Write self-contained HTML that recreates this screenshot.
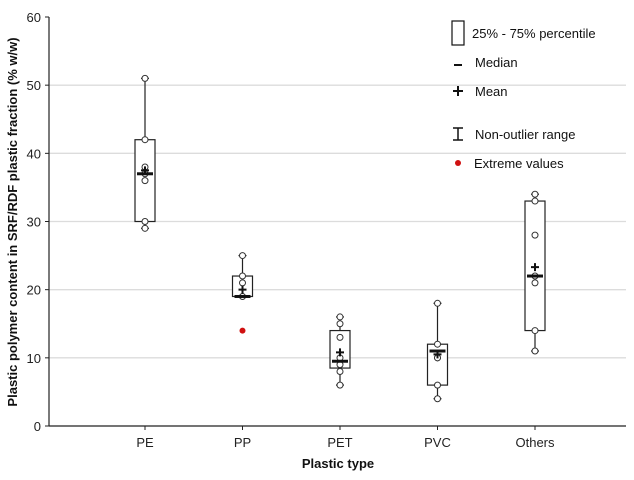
<!DOCTYPE html>
<html><head><meta charset="utf-8"><style>
body{margin:0;background:#fff}
svg text{font-family:"Liberation Sans",Arial,sans-serif}
</style></head><body>
<svg id="chart" width="634" height="475" viewBox="0 0 634 475" xmlns="http://www.w3.org/2000/svg">
<g id="grid"></g>
<g id="axes"></g>
<g id="boxes"></g>
<text transform="translate(17,222) rotate(-90)" text-anchor="middle" font-size="13" font-weight="bold" fill="#111">Plastic polymer content in SRF/RDF plastic fraction (% w/w)</text>
<text x="338" y="468" text-anchor="middle" font-size="13" font-weight="bold" fill="#111">Plastic type</text>
<g font-size="13" fill="#111">
  <rect x="452" y="21" width="12" height="24" fill="#fff" stroke="#111" stroke-width="1.2"/>
  <text x="472" y="38">25% - 75% percentile</text>
  <line x1="454" y1="65" x2="462" y2="65" stroke="#111" stroke-width="2"/>
  <text x="475" y="67">Median</text>
  <path d="M453 91H463M458 86V96" stroke="#111" stroke-width="2"/>
  <text x="475" y="96">Mean</text>
  <path d="M453 128H463M458 128V140M453 140H463" stroke="#111" stroke-width="1.5" fill="none"/>
  <text x="475" y="139">Non-outlier range</text>
  <circle cx="458" cy="163" r="3" fill="#d01010"/>
  <text x="474" y="168">Extreme values</text>
</g>
</svg>
<script>
const categories=["PE","PP","PET","PVC","Others"];
const q1=[30,19,8.5,6,14];
const q3=[42,22,14,12,33];
const medians=[37,19,9.5,11,22];
const means=[37.5,20,10.8,10.5,23.3];
const whiskerMin=[29,19,6,4,11];
const whiskerMax=[51,25,16,18,34];
const points=[[51,42,38,37,36,30,29],[25,22,21,19],[16,15,13,10,9,8,6],[18,12,10,10,6,4],[34,33,28,22,21,14,11]];
const extremes=[[],[14],[],[],[]];
const yTicks=[0,10,20,30,40,50,60];

const NS="http://www.w3.org/2000/svg";
const X0=49,X1=626,Y0=426,Y60=17;
const y=v=>Y0-(Y0-Y60)*v/60;
const xc=i=>145+i*97.5;
function mk(p,tag,attrs){const e=document.createElementNS(NS,tag);for(const k in attrs)e.setAttribute(k,attrs[k]);p.appendChild(e);return e;}
const grid=document.getElementById('grid'),axes=document.getElementById('axes'),boxes=document.getElementById('boxes');
yTicks.forEach(t=>{
  if(t>0&&t<60){const g=mk(grid,'line',{x1:X0,x2:X1,y1:y(t),y2:y(t),stroke:'#dcdcdc','stroke-width':1.3});
  
  }
  const tk=mk(axes,'line',{x1:X0-4,x2:X0,y1:y(t),y2:y(t),stroke:'#222'});
  
  
  const tl=mk(axes,'text',{x:X0-8,y:y(t)+5,'text-anchor':'end','font-size':13,fill:'#222'});tl.textContent=t;
  
  
});
const ya=mk(axes,'line',{x1:X0,x2:X0,y1:Y60,y2:Y0,stroke:'#222','stroke-width':1.2});


const xa=mk(axes,'line',{x1:X0,x2:X1,y1:Y0,y2:Y0,stroke:'#222','stroke-width':1.2});


categories.forEach((c,i)=>{
  const x=xc(i);
  const tk=mk(axes,'line',{x1:x,x2:x,y1:Y0,y2:Y0+4,stroke:'#222'});
  
  
  const tl=mk(axes,'text',{x:x,y:Y0+21,'text-anchor':'middle','font-size':13,fill:'#222'});tl.textContent=c;
  
  
  const g=mk(boxes,'g',{});
  
  
  mk(g,'line',{x1:x,x2:x,y1:y(whiskerMax[i]),y2:y(q3[i]),stroke:'#222','stroke-width':1.2});
  mk(g,'line',{x1:x,x2:x,y1:y(q1[i]),y2:y(whiskerMin[i]),stroke:'#222','stroke-width':1.2});
  mk(g,'line',{x1:x-4,x2:x+4,y1:y(whiskerMax[i]),y2:y(whiskerMax[i]),stroke:'#222','stroke-width':1.2});
  mk(g,'line',{x1:x-4,x2:x+4,y1:y(whiskerMin[i]),y2:y(whiskerMin[i]),stroke:'#222','stroke-width':1.2});
  mk(g,'rect',{x:x-10,y:y(q3[i]),width:20,height:y(q1[i])-y(q3[i]),fill:'#fff',stroke:'#222','stroke-width':1.2});
  points[i].forEach(v=>{const p=mk(g,'circle',{cx:x,cy:y(v),r:3,fill:'#fff',stroke:'#333','stroke-width':1});
    
    });
  mk(g,'line',{x1:x-8,x2:x+8,y1:y(medians[i]),y2:y(medians[i]),stroke:'#111','stroke-width':3});
  mk(g,'path',{d:`M${x-4} ${y(means[i])}H${x+4}M${x} ${y(means[i])-4}V${y(means[i])+4}`,stroke:'#111','stroke-width':2});
  extremes[i].forEach(v=>{const p=mk(g,'circle',{cx:x,cy:y(v),r:3,fill:'#d01010'});
    
    });
});
</script>
</body></html>
